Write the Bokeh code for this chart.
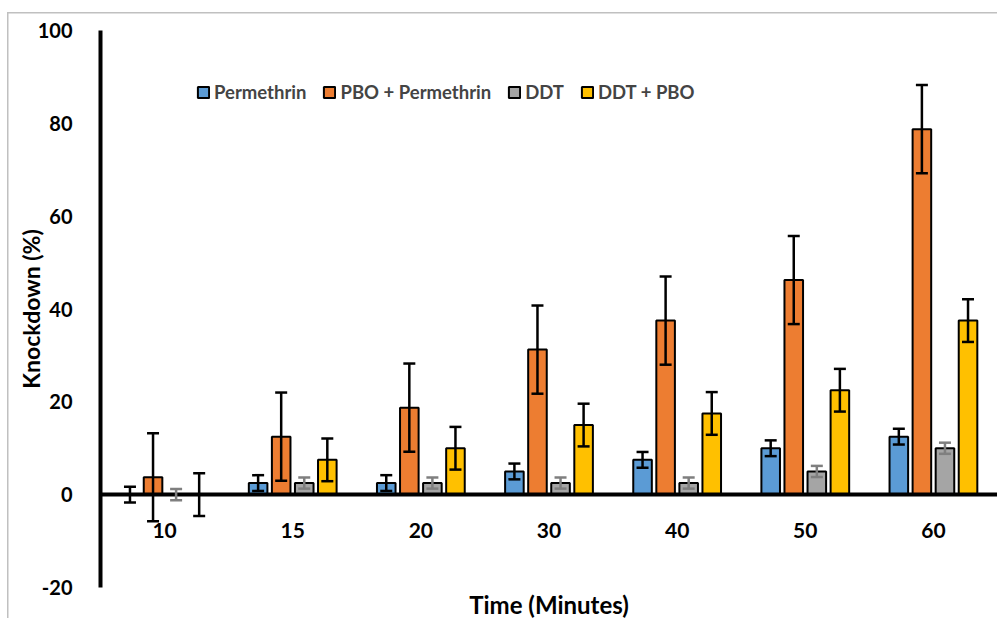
from bokeh.plotting import figure
from bokeh.models import (ColumnDataSource, FactorRange, FixedTicker, Whisker, TeeHead,
                          Legend, Title, Range1d)
from bokeh.transform import dodge
from bokeh.embed import file_html
from bokeh.resources import INLINE

times = ["10", "15", "20", "30", "40", "50", "60"]
series = ["Permethrin", "PBO + Permethrin", "DDT", "DDT + PBO"]
permethrin = [0, 2.5, 2.5, 5, 7.5, 10, 12.5]
permethrin_err = [1.7, 1.7, 1.7, 1.7, 1.7, 1.7, 1.7]
pbo_permethrin = [3.75, 12.5, 18.75, 31.25, 37.5, 46.25, 78.75]
pbo_permethrin_err = [9.5, 9.5, 9.5, 9.5, 9.5, 9.5, 9.5]
ddt = [0, 2.5, 2.5, 2.5, 2.5, 5, 10]
ddt_err = [1.2, 1.2, 1.2, 1.2, 1.2, 1.2, 1.2]
ddt_pbo = [0, 7.5, 10, 15, 17.5, 22.5, 37.5]
ddt_pbo_err = [4.6, 4.6, 4.6, 4.6, 4.6, 4.6, 4.6]
y_ticks = [-20, 0, 20, 40, 60, 80, 100]
y_tick_labels = ["-20", "0", "20", "40", "60", "80", "100"]

colors = ["#5B9BD5", "#ED7D31", "#A5A5A5", "#FFC000"]
err_colors = ["black", "black", "#7F7F7F", "black"]
offsets = [-0.27, -0.09, 0.09, 0.27]
FONT = "Lato"

data = {"t": times}
vals = [permethrin, pbo_permethrin, ddt, ddt_pbo]
errs = [permethrin_err, pbo_permethrin_err, ddt_err, ddt_pbo_err]
for i, (v, e) in enumerate(zip(vals, errs)):
    data[f"v{i}"] = v
    data[f"lo{i}"] = [a - b for a, b in zip(v, e)]
    data[f"hi{i}"] = [a + b for a, b in zip(v, e)]
src = ColumnDataSource(data)

p = figure(x_range=FactorRange(*times), y_range=Range1d(-20, 100),
           frame_width=897, frame_height=557,
           min_border_left=100, min_border_top=30, min_border_bottom=30, min_border_right=0,
           output_backend="svg", toolbar_location=None)
p.outline_line_color = None
p.grid.visible = False
p.background_fill_color = None
p.border_fill_color = None
p.styles = {
    "background-color": "white",
    "background-image": "linear-gradient(#C0C0C0, #C0C0C0), linear-gradient(#C0C0C0, #C0C0C0)",
    "background-position": "7px 12px, 7px 12px",
    "background-size": "1.5px 100%, 100% 1.5px",
    "background-repeat": "no-repeat",
}

items = []
for i in range(4):
    r = p.vbar(x=dodge("t", offsets[i], range=p.x_range), top=f"v{i}", width=0.145,
               source=src, fill_color=colors[i], line_color="black", line_width=2)
    items.append((series[i], [r]))
    w = Whisker(base=dodge("t", offsets[i], range=p.x_range), lower=f"lo{i}", upper=f"hi{i}",
                source=src, line_color=err_colors[i], line_width=2.5, level="overlay",
                upper_head=TeeHead(size=12, line_color=err_colors[i], line_width=2.5),
                lower_head=TeeHead(size=12, line_color=err_colors[i], line_width=2.5))
    p.add_layout(w)

legend = Legend(items=items, orientation="horizontal", location=(96, 484),
                padding=0, margin=0, spacing=16, label_standoff=4,
                glyph_width=14, glyph_height=14,
                label_text_font=FONT, label_text_font_style="bold", label_text_font_size="18.5px",
                border_line_color=None, background_fill_alpha=0)
p.add_layout(legend, "center")

xa = p.xaxis[0]
xa.fixed_location = 0
xa.axis_line_width = 4
xa.axis_line_color = "black"
xa.major_tick_line_color = None
xa.minor_tick_line_color = None
xa.major_label_standoff = 22
xa.major_label_text_font = FONT
xa.major_label_text_font_style = "bold"
xa.major_label_text_font_size = "21px"
xa.major_label_text_color = "black"

ya = p.yaxis[0]
ya.ticker = FixedTicker(ticks=y_ticks)
ya.major_label_overrides = dict(zip(y_ticks, y_tick_labels))
ya.axis_line_width = 4
ya.axis_line_color = "black"
ya.major_tick_line_color = None
ya.minor_tick_line_color = None
ya.major_label_standoff = 22
ya.major_label_text_font = FONT
ya.major_label_text_font_style = "bold"
ya.major_label_text_font_size = "20px"
ya.major_label_text_color = "black"
ya.axis_label = "Knockdown (%)"
ya.axis_label_text_font = FONT
ya.axis_label_text_font_style = "bold"
ya.axis_label_text_font_size = "23px"
ya.axis_label_text_color = "black"
ya.axis_label_standoff = -10

p.add_layout(Title(text="Time (Minutes)", align="center", text_font=FONT,
                   text_font_style="bold", text_font_size="24px", text_color="black",
                   standoff=0), "below")

open("out.html", "w").write(file_html(p, INLINE))
